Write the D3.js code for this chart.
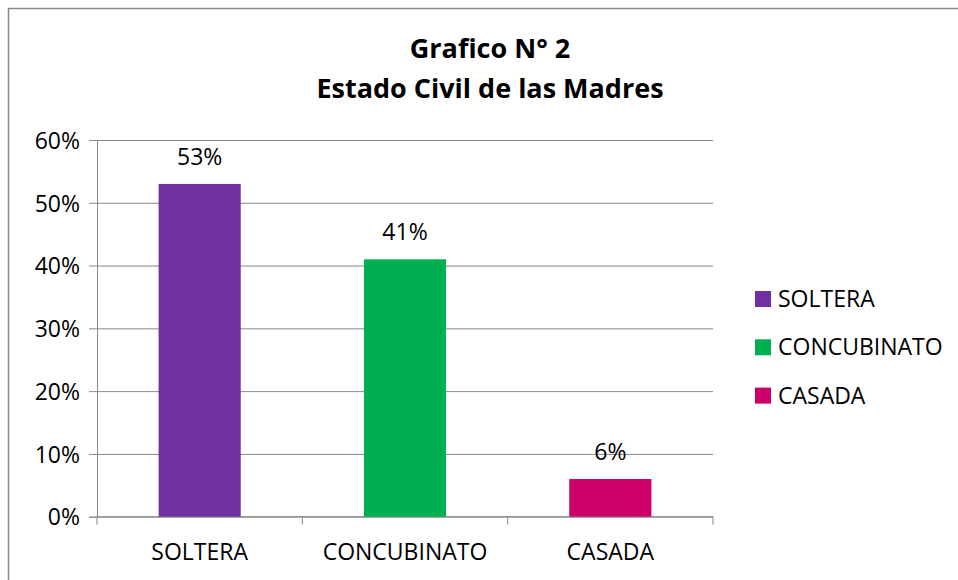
<!DOCTYPE html>
<html>
<head>
<meta charset="utf-8">
<script src="https://cdn.jsdelivr.net/npm/d3@7"></script>
<style>
  body { margin: 0; background: #fff; }
  svg text { font-family: "Open Sans", sans-serif; fill: #000; }
</style>
</head>
<body>
<svg id="chart"></svg>
<script>
// data
var categories = ["SOLTERA", "CONCUBINATO", "CASADA"]
var values = [0.53, 0.41, 0.06]
var colors = ["#7030a0", "#00b050", "#cc0066"]
var yTicks = [0, 0.1, 0.2, 0.3, 0.4, 0.5, 0.6]
var titleLines = ["Grafico N° 2", "Estado Civil de las Madres"]

var width = 958
var height = 580
var margin = {top: 140, right: 245, bottom: 63.3, left: 97}
var plotW = width - margin.left - margin.right
var plotH = height - margin.top - margin.bottom
var gridColor = "#898989"

let svg = d3.select("#chart")
  .attr("width", width)
  .attr("height", height)

// chart frame (runs off the right and bottom edge)
svg.append("rect")
  .attr("x", 8.5).attr("y", 8.5)
  .attr("width", width + 10).attr("height", height + 10)
  .attr("fill", "none")
  .attr("stroke", gridColor)
  .attr("stroke-width", 1.5)

// title
svg.append("text")
  .attr("text-anchor", "middle")
  .attr("font-weight", "bold")
  .attr("font-size", 27)
  .selectAll("tspan")
  .data(titleLines)
  .join("tspan")
  .attr("x", 490)
  .attr("y", (d, i) => 58 + i * 39.5)
  .text(d => d)

let canvas = svg.append("g")
  .attr("transform", "translate(" + margin.left + "," + margin.top + ")")

let x = d3.scaleBand()
  .domain(categories)
  .range([0, plotW])
  .paddingInner(0.6)
  .paddingOuter(0.3)

let y = d3.scaleLinear()
  .domain([0, 0.6])
  .range([plotH, 0])

// y axis + gridlines
let yAxis = canvas.append("g")
  .attr("class", "y-axis")
  .call(d3.axisLeft(y).tickValues(yTicks).tickFormat(d3.format(".0%")).tickSize(8).tickPadding(9))
yAxis.select(".domain").attr("stroke", gridColor)
yAxis.selectAll(".tick line")
  .attr("x1", -8).attr("x2", plotW)
  .attr("stroke", gridColor)
yAxis.selectAll(".tick text")
  .attr("font-size", 23)
  .attr("font-family", "Open Sans, sans-serif")
  .attr("fill", "#000")
  .attr("dy", "0.36em")

// x axis: ticks at the category boundaries
let step = x.step()
let bounds = d3.range(categories.length + 1).map(i => x.range()[0] + i * step)
let xAxis = canvas.append("g")
  .attr("class", "x-axis")
  .attr("transform", "translate(0," + plotH + ")")
xAxis.append("line")
  .attr("x1", 0).attr("x2", plotW)
  .attr("stroke", gridColor)
xAxis.selectAll(".bound")
  .data(bounds)
  .join("line")
  .attr("class", "bound")
  .attr("x1", d => d).attr("x2", d => d)
  .attr("y1", 0).attr("y2", 8)
  .attr("stroke", gridColor)
xAxis.selectAll(".cat")
  .data(categories)
  .join("text")
  .attr("class", "cat")
  .attr("x", d => x(d) + x.bandwidth() / 2)
  .attr("y", 43)
  .attr("text-anchor", "middle")
  .attr("font-size", 23)
  .text(d => d)

// bars
canvas.selectAll(".bar")
  .data(values)
  .join("rect")
  .attr("class", "bar")
  .attr("x", (d, i) => x(categories[i]))
  .attr("y", d => y(d))
  .attr("width", x.bandwidth())
  .attr("height", d => plotH - y(d))
  .attr("fill", (d, i) => colors[i])

// value labels
canvas.selectAll(".val")
  .data(values)
  .join("text")
  .attr("class", "val")
  .attr("x", (d, i) => x(categories[i]) + x.bandwidth() / 2)
  .attr("y", d => y(d) - 19)
  .attr("text-anchor", "middle")
  .attr("font-size", 23)
  .text(d => d3.format(".0%")(d))

// legend
let legend = svg.append("g")
  .attr("transform", "translate(755,291)")
let item = legend.selectAll(".item")
  .data(categories)
  .join("g")
  .attr("class", "item")
  .attr("transform", (d, i) => "translate(0," + i * 48.3 + ")")
item.append("rect")
  .attr("width", 16).attr("height", 16)
  .attr("fill", (d, i) => colors[i])
item.append("text")
  .attr("x", 23).attr("y", 16)
  .attr("font-size", 23)
  .text(d => d)
</script>
</body>
</html>
